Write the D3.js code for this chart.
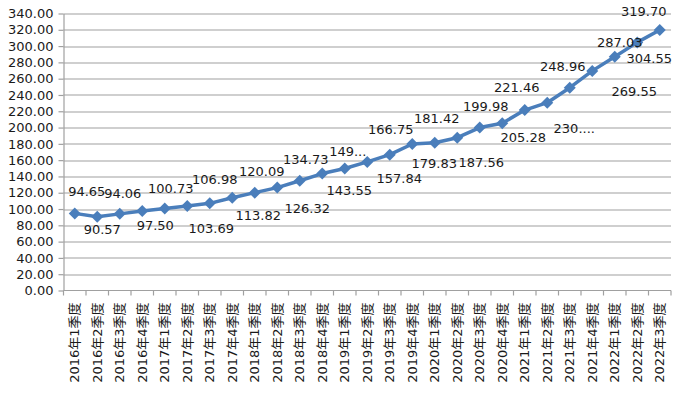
<!DOCTYPE html>
<html>
<head>
<meta charset="utf-8">
<script src="https://cdn.jsdelivr.net/npm/d3@7"></script>
<style>
  body { margin: 0; background: #fff; }
  svg { display: block; }
  .grid line { stroke: #a0a0a0; stroke-width: 1.2; }
  .axis path, .axis line { stroke: #a0a0a0; stroke-width: 1.2; }
  .axis text { fill: #1a1a1a; font-family: "DejaVu Sans", "Noto Sans CJK SC", sans-serif; font-size: 13px; }
  .lbl { fill: #1a1a1a; font-family: "DejaVu Sans", sans-serif; font-size: 13px; }
</style>
</head>
<body>
<div id="chart"></div>
<script>
// quarters on the x axis
var quarters = [
  "2016年1季度", "2016年2季度", "2016年3季度", "2016年4季度",
  "2017年1季度", "2017年2季度", "2017年3季度", "2017年4季度",
  "2018年1季度", "2018年2季度", "2018年3季度", "2018年4季度",
  "2019年1季度", "2019年2季度", "2019年3季度", "2019年4季度",
  "2020年1季度", "2020年2季度", "2020年3季度", "2020年4季度",
  "2021年1季度", "2021年2季度", "2021年3季度", "2021年4季度",
  "2022年1季度", "2022年2季度", "2022年3季度"
];

var values = [
  94.65, 90.57, 94.06, 97.50, 100.73, 103.69, 106.98, 113.82,
  120.09, 126.32, 134.73, 143.55, 149.80, 157.84, 166.75, 179.83,
  181.42, 187.56, 199.98, 205.28, 221.46, 230.50, 248.96, 269.55,
  287.03, 304.55, 319.70
];

// data labels as shown (two of them are cut short in the original)
var labelText = [
  "94.65", "90.57", "94.06", "97.50", "100.73", "103.69", "106.98", "113.82",
  "120.09", "126.32", "134.73", "143.55", "149...", "157.84", "166.75", "179.83",
  "181.42", "187.56", "199.98", "205.28", "221.46", "230....", "248.96", "269.55",
  "287.03", "304.55", "319.70"
];

var yTicks = d3.range(0, 341, 20);

// label placement relative to each point [dx, dy]
var labelShift = [
  [12, -22], [5, 13], [3, -20], [13, 14], [6, -20], [24, 22], [5, -24], [26, 18],
  [7, -21], [30, 21], [6, -21], [27, 17], [3, -17], [32, 17], [1, -25], [22, 19],
  [2, -24], [24, 25], [6, -21], [21, 14], [-8, -23], [27, 26], [-7, -21], [42, 21],
  [5, -14], [12, 16], [-16, -19]
];

var margin = {top: 13.5, right: 6, bottom: 108.5, left: 63.5},
    width = 677 - margin.left - margin.right,
    height = 399 - margin.top - margin.bottom;

var x = d3.scaleBand()
    .domain(quarters)
    .range([0, width]);

var y = d3.scaleLinear()
    .domain([0, 340])
    .range([height, 0]);

var svg = d3.select("#chart").append("svg")
    .attr("width", 677)
    .attr("height", 399)
    .append("g")
    .attr("transform", "translate(" + margin.left + "," + margin.top + ")");

// horizontal gridlines
svg.append("g")
    .attr("class", "grid")
    .selectAll("line")
    .data(yTicks.slice(1))
    .enter()
    .append("line")
    .attr("x1", 0)
    .attr("x2", width)
    .attr("y1", function(d) { return Math.round(y(d)) + 0.5; })
    .attr("y2", function(d) { return Math.round(y(d)) + 0.5; });

// y axis
var yAxis = d3.axisLeft(y)
    .tickValues(yTicks)
    .tickFormat(d3.format(".2f"))
    .tickSizeInner(5)
    .tickSizeOuter(0)
    .tickPadding(5);

svg.append("g")
    .attr("class", "y axis")
    .call(yAxis);

// x axis, ticks between categories
var xg = svg.append("g")
    .attr("class", "x axis")
    .attr("transform", "translate(0," + height + ")");

xg.append("line")
    .attr("x1", 0)
    .attr("x2", width);

xg.selectAll(".tk")
    .data(d3.range(quarters.length + 1))
    .enter()
    .append("line")
    .attr("class", "tk")
    .attr("x1", function(i) { return i * x.step(); })
    .attr("x2", function(i) { return i * x.step(); })
    .attr("y1", 0)
    .attr("y2", 5);

xg.selectAll("text")
    .data(quarters)
    .enter()
    .append("text")
    .attr("text-anchor", "end")
    .attr("dy", "0.35em")
    .attr("transform", function(d) {
        return "translate(" + (x(d) + x.bandwidth() / 2) + ",12) rotate(-90)";
    })
    .text(function(d) { return d; });

// the line
var line = d3.line()
    .x(function(d, i) { return x(quarters[i]) + x.bandwidth() / 2; })
    .y(function(d) { return y(d); });

svg.append("path")
    .datum(values)
    .attr("fill", "none")
    .attr("stroke", "#4a7ebb")
    .attr("stroke-width", 3.5)
    .attr("stroke-linejoin", "round")
    .attr("d", line);

// diamond markers
var diamond = d3.symbol().type(d3.symbolSquare).size(72);

svg.selectAll(".mk")
    .data(values)
    .enter()
    .append("path")
    .attr("class", "mk")
    .attr("fill", "#4a7ebb")
    .attr("d", diamond)
    .attr("transform", function(d, i) {
        return "translate(" + (x(quarters[i]) + x.bandwidth() / 2) + "," + y(d) + ") rotate(45)";
    });

// data labels
svg.selectAll(".lbl")
    .data(values)
    .enter()
    .append("text")
    .attr("class", "lbl")
    .attr("text-anchor", "middle")
    .attr("dy", "0.35em")
    .attr("x", function(d, i) { return x(quarters[i]) + x.bandwidth() / 2 + labelShift[i][0]; })
    .attr("y", function(d, i) { return y(d) + labelShift[i][1]; })
    .text(function(d, i) { return labelText[i]; });
</script>
</body>
</html>
